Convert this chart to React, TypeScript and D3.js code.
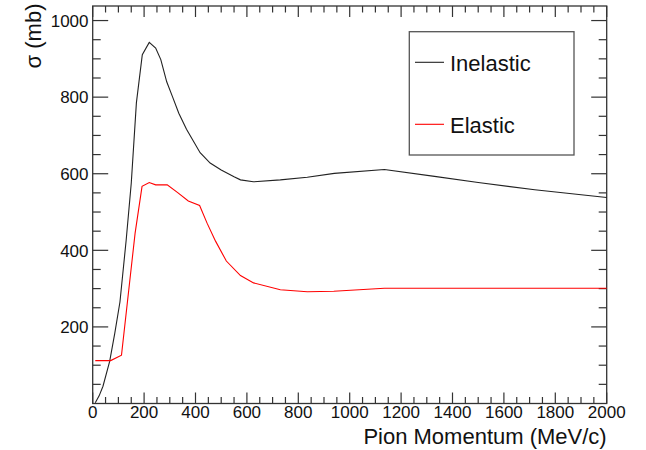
import React from "react";
import * as d3 from "d3";

const inelasticX = [10, 25, 40, 66, 86, 106, 130, 150, 170, 193, 220, 245, 265, 288, 310, 335, 365, 418, 457, 500, 550, 575, 625, 730, 835, 940, 1135, 1330, 1500, 1720, 2000];
const inelasticY = [2, 20, 45, 110, 184, 265, 425, 575, 785, 911, 943, 928, 898, 840, 802, 758, 716, 655, 628, 610, 592, 584, 579, 584, 591, 601, 611, 593, 577, 558, 538];

const elasticX = [10, 70, 112, 165, 192, 220, 245, 290, 332, 372, 416, 445, 478, 520, 575, 626, 730, 835, 938, 1135, 2000];
const elasticY = [112, 112, 126, 445, 567, 577, 571, 571, 550, 529, 517, 471, 424, 372, 334, 315, 297, 292, 293, 301, 301];

const xTickLabels = [0, 200, 400, 600, 800, 1000, 1200, 1400, 1600, 1800, 2000];
const yTickLabels = [200, 400, 600, 800, 1000];
const legendLabels = ["Inelastic", "Elastic"];
const seriesColors = ["#222222", "#ff0000"];

const W = 646;
const H = 450;
const L = 92.7;
const R = 606.7;
const T = 6;
const B = 403.5;
const FONT = "'Liberation Sans', Arial, sans-serif";

export default function App() {
  const x = d3.scaleLinear().domain([0, 2000]).range([L, R]);
  const y = d3.scaleLinear().domain([0, 1038]).range([B, T]);
  const line = d3
    .line<[number, number]>()
    .x((d) => x(d[0]))
    .y((d) => y(d[1]));
  const inel = inelasticX.map((v, i) => [v, inelasticY[i]] as [number, number]);
  const el = elasticX.map((v, i) => [v, elasticY[i]] as [number, number]);

  const xMinor = d3.range(0, 2001, 50);
  const yMinor = d3.range(50, 1038, 50);
  const axisColor = "#333";

  return (
    <svg
      width={W}
      height={H}
      style={{ position: "absolute", left: 0, top: 0, background: "#fff" }}
      fontFamily={FONT}
    >
      <rect x={0} y={0} width={W} height={H} fill="#fff" />
      {xMinor.map((v) => {
        const major = v % 200 === 0;
        const len = major ? 11 : 6.5;
        return (
          <g key={"xt" + v} stroke={axisColor} strokeWidth={1.2}>
            <line x1={x(v)} x2={x(v)} y1={B} y2={B - len} />
            <line x1={x(v)} x2={x(v)} y1={T} y2={T + len} />
          </g>
        );
      })}
      {yMinor.map((v) => {
        const major = v % 200 === 0;
        const len = major ? 15.5 : 8;
        return (
          <g key={"yt" + v} stroke={axisColor} strokeWidth={1.2}>
            <line x1={L} x2={L + len} y1={y(v)} y2={y(v)} />
            <line x1={R} x2={R - len} y1={y(v)} y2={y(v)} />
          </g>
        );
      })}
      <rect x={L} y={T} width={R - L} height={B - T} fill="none" stroke={axisColor} strokeWidth={1.3} />
      <path d={line(inel) || ""} fill="none" stroke={seriesColors[0]} strokeWidth={1.1} />
      <path d={line(el) || ""} fill="none" stroke={seriesColors[1]} strokeWidth={1.1} />
      {xTickLabels.map((v) => (
        <text key={"xl" + v} x={x(v)} y={417.5} textAnchor="middle" fontSize={17} fill="#111">
          {v}
        </text>
      ))}
      {yTickLabels.map((v) => (
        <text key={"yl" + v} x={88.5} y={y(v) + 6.2} textAnchor="end" fontSize={17} fill="#111">
          {v}
        </text>
      ))}
      <text x={R} y={444.3} textAnchor="end" fontSize={22} fill="#111">
        Pion Momentum (MeV/c)
      </text>
      <text transform={`translate(41,3.5) rotate(-90)`} textAnchor="end" fontSize={22} fill="#111">
        σ (mb)
      </text>
      <rect x={409.3} y={31.7} width={164.7} height={123.3} fill="#fff" stroke="#555" strokeWidth={1.3} />
      {legendLabels.map((lab, i) => {
        const ly = i === 0 ? 62.3 : 124.3;
        return (
          <g key={lab}>
            <line x1={415} x2={444} y1={ly} y2={ly} stroke={seriesColors[i]} strokeWidth={1.1} />
            <text x={450} y={ly + 8.5} fontSize={22} fill="#111">
              {lab}
            </text>
          </g>
        );
      })}
    </svg>
  );
}
